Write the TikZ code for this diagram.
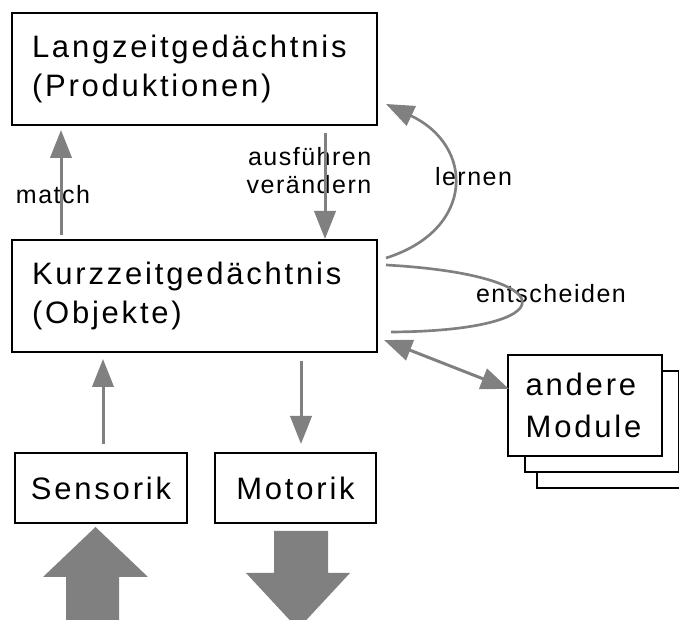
\documentclass[tikz,border=0pt]{standalone}
\usepackage{fontspec}
\setmainfont{Liberation Sans}
\newfontfamily\boxfont[LetterSpace=9]{Liberation Sans}
\newfontfamily\labelfont[LetterSpace=6]{Liberation Sans}
\usetikzlibrary{arrows.meta,calc}

\begin{document}
\begin{tikzpicture}[x=0.75pt,y=0.75pt,
	>={Triangle[length=21pt,width=16pt]},
	box/.style={draw, line width=1.5pt, fill=white, font=\boxfont\fontsize{23.25}{29.25}\selectfont},
	bigbox/.style={box, align=left, text width=243.75pt, inner xsep=15pt, minimum height=84pt},
	smallbox/.style={box, minimum height=52.5pt},
	modbox/.style={box, align=left, text width=89pt, inner xsep=13.25pt, minimum height=75.75pt, font=\boxfont\fontsize{23.25}{31.5}\selectfont},
	lbl/.style={font=\labelfont\fontsize{18.75}{21}\selectfont},
	flow/.style={draw=gray, line width=2.25pt, ->},
	loopline/.style={draw=gray, line width=2pt}]
	\useasboundingbox (0,0) rectangle (679,620);
	
	% Gedaechtnis
	\node[bigbox] (lang) at (194.5,551) {Langzeitgedächtnis\\(Produktionen)};
	\node[bigbox] (kurz) at (194.5,324) {Kurzzeitgedächtnis\\(Objekte)};
	
	% Ein- und Ausgabe
	\node[smallbox, minimum width=129pt] (sens) at (101,132) {Sensorik};
	\node[smallbox, minimum width=120.75pt] (moto) at (295.5,132) {Motorik};
	
	% andere Module (gestapelt)
	\node[modbox] (mod3) at (614,182.5) {};
	\node[modbox] (mod2) at (602,198.5) {};
	\node[modbox] (mod) at (585,214.5) {andere\\Module};
	
	% Beschriftungen
	\node[lbl] (match) at (53,425) {match};
	\node[lbl, align=right] (ausf) at (309,449) {ausführen\\verändern};
	\node[lbl] (lernen) at (473.5,443) {lernen};
	\node[lbl] (entsch) at (551,326) {entscheiden};
	
	% Pfeile
	\draw[flow, shorten <=3pt, shorten >=3pt] (61,0 |- kurz.north) -- (61,0 |- lang.south);
	\draw[flow, shorten <=5pt] (325,0 |- lang.south) -- (325,0 |- kurz.north);
	\draw[flow, shorten <=6pt, shorten >=4.5pt] (103,0 |- sens.north) -- (103,0 |- kurz.south);
	\draw[flow, shorten <=6pt, shorten >=6pt] (301,0 |- kurz.south) -- (301,0 |- moto.north);
	\draw[flow, <->] ($(kurz.south east)+(6,13)$) -- ($(mod.west)+(2,16.5)$);
	
	\draw[loopline, ->] ($(kurz.north east)+(8,-19)$) .. controls (475,390) and (475,474) .. ($(lang.south east)+(8,22)$);
	\draw[loopline] ($(kurz.east)+(8,31)$) .. controls (567,345) and (567,289) .. ($(kurz.east)+(13,-36)$);
	
	% grosse Pfeile
	\fill[gray] (66,-5) -- (66,43) -- (43,43) -- (95.5,93) -- (148,43) -- (119,43) -- (119,-5) -- cycle;
	\fill[gray] (274,89) -- (328,89) -- (328,47) -- (350,47) -- (298,-9) -- (246,47) -- (274,47) -- cycle;
\end{tikzpicture}
\end{document}
